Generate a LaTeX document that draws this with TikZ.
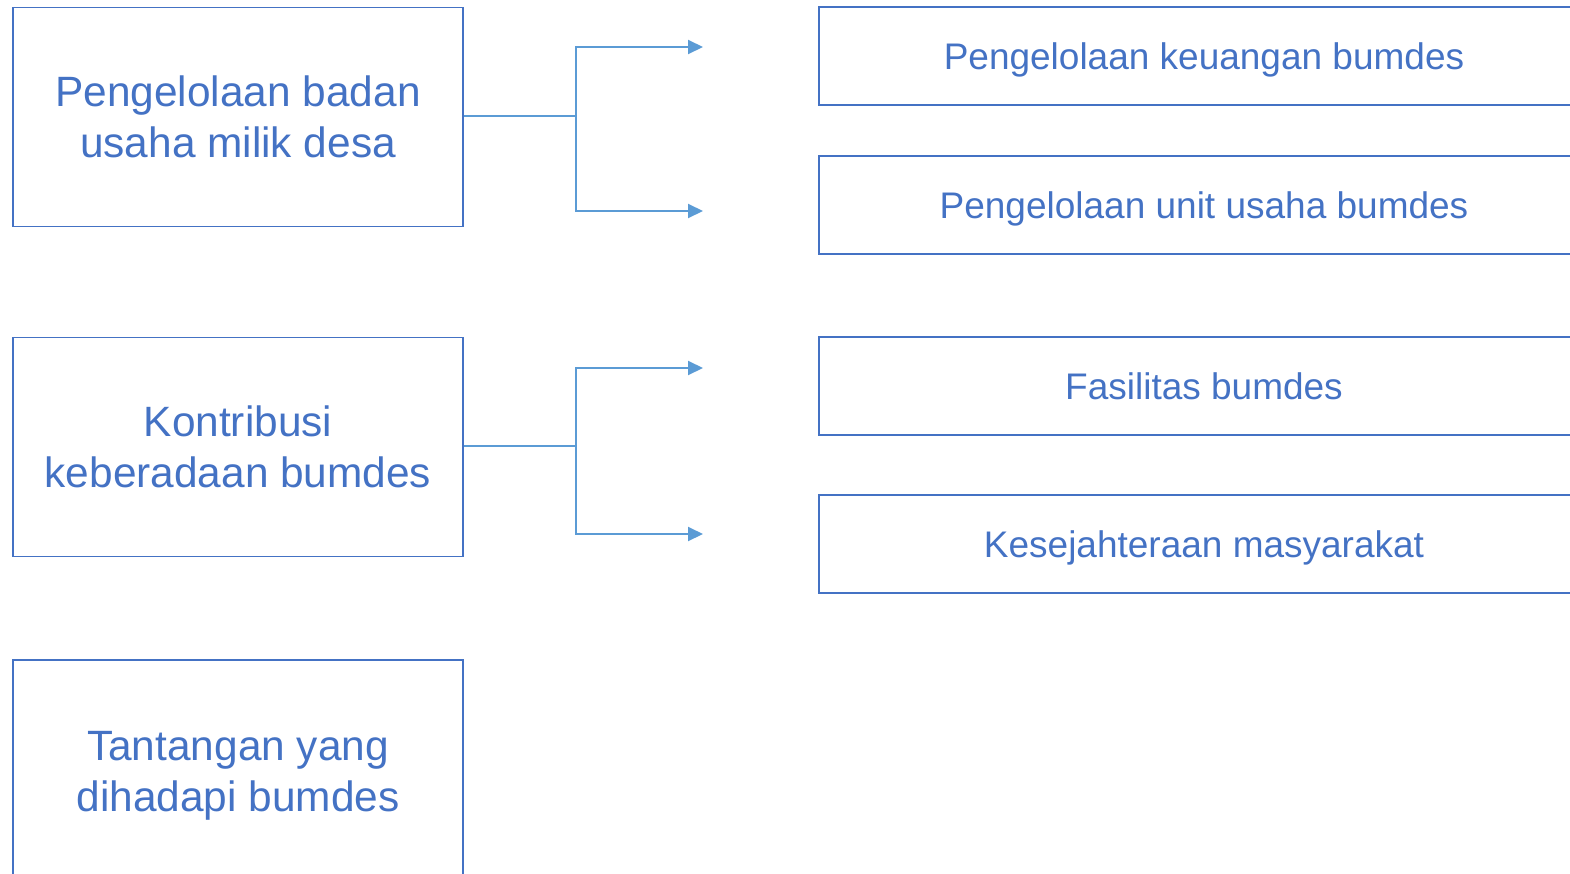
\documentclass[tikz,border=0pt]{standalone}
\usepackage{fontspec}
\setmainfont{Liberation Sans}
\usetikzlibrary{arrows.meta}
\definecolor{boxblue}{HTML}{4472C4}
\definecolor{linkblue}{HTML}{5B9BD5}
\tikzset{
	mainbox/.style={draw=boxblue, line width=1.6bp, minimum width=450bp, minimum height=219bp, inner sep=0pt, text depth=0pt, align=center, text=boxblue, font=\fontsize{42.4bp}{51bp}\selectfont},
	subbox/.style={draw=boxblue, line width=1.6bp, minimum width=770bp, minimum height=98bp, inner sep=0pt, text height=27bp, text depth=0pt, text=boxblue, font=\fontsize{37bp}{44bp}\selectfont},
	link/.style={draw=linkblue, line width=2bp},
	linkarrow/.style={link, -{Triangle[length=15bp,width=14bp]}}
}
\begin{document}
\begin{tikzpicture}[x=1bp,y=-1bp]
	\useasboundingbox (0,0) rectangle (1570,873);
	\clip (0,0) rectangle (1570,873);
	% left column
	\node[mainbox] (badan) at (238,117) {Pengelolaan badan\\usaha milik desa};
	\node[mainbox] (kontribusi) at (238,447) {Kontribusi\\keberadaan bumdes};
	\node[mainbox, minimum height=222bp] (tantangan) at (238,771) {Tantangan yang\\dihadapi bumdes};
	% right column
	\node[subbox] (keuangan) at (1204,56) {Pengelolaan keuangan bumdes};
	\node[subbox] (unit) at (1204,205) {Pengelolaan unit usaha bumdes};
	\node[subbox] (fasilitas) at (1204,386) {Fasilitas bumdes};
	\node[subbox] (sejahtera) at (1204,544) {Kesejahteraan masyarakat};
	% forks
	\coordinate (forkA) at (576,116);
	\coordinate (tipA1) at (703,47);
	\coordinate (tipA2) at (703,211);
	\coordinate (forkB) at (576,446);
	\coordinate (tipB1) at (703,368);
	\coordinate (tipB2) at (703,534);
	\draw[link] (badan.east |- forkA) -- (forkA);
	\draw[linkarrow] (forkA) |- (tipA1);
	\draw[linkarrow] (forkA) |- (tipA2);
	\draw[link] (kontribusi.east |- forkB) -- (forkB);
	\draw[linkarrow] (forkB) |- (tipB1);
	\draw[linkarrow] (forkB) |- (tipB2);
\end{tikzpicture}
\end{document}
